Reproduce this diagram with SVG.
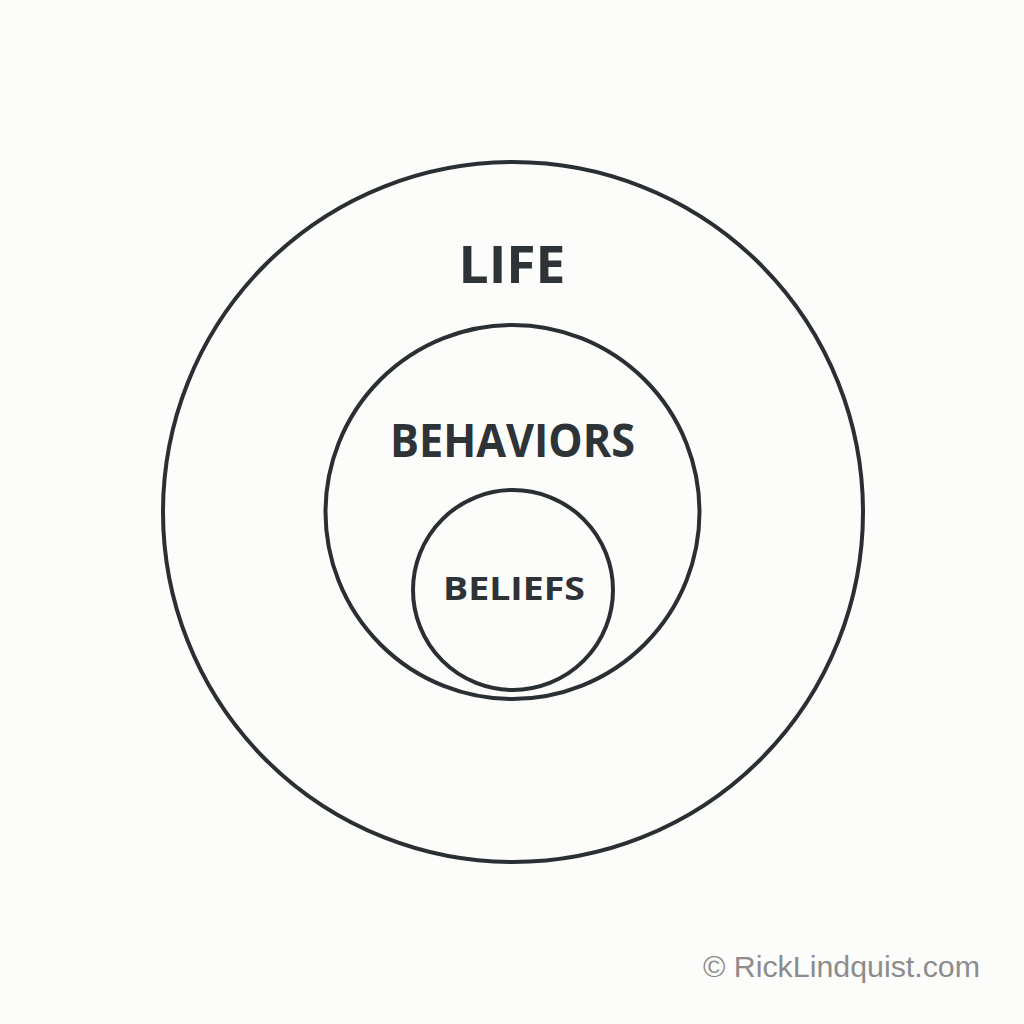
<svg xmlns="http://www.w3.org/2000/svg" width="1024" height="1024" viewBox="0 0 1024 1024">
<style>
.ring{fill:none;stroke:#2a2f33;stroke-width:4}
.lbl{font-family:"Open Sans","DejaVu Sans",sans-serif;font-weight:700;fill:#2d3336;text-anchor:middle}
.wm{font-family:"Liberation Sans",Arial,sans-serif;fill:#8c8c8c}
</style>
<rect width="1024" height="1024" fill="#fcfcfa"/>
<g id="life">
<circle class="ring" cx="513" cy="512" r="350"/>
<text class="lbl" x="512" y="283" font-size="52" textLength="107" lengthAdjust="spacingAndGlyphs">LIFE</text>
</g>
<g id="behaviors">
<circle class="ring" cx="512.5" cy="512" r="187"/>
<text class="lbl" x="512.5" y="457" font-size="47" textLength="245" lengthAdjust="spacingAndGlyphs">BEHAVIORS</text>
</g>
<g id="beliefs">
<circle class="ring" cx="513" cy="590" r="100" fill="#efefef"/>
<text class="lbl" x="514" y="600" font-size="33" textLength="142" lengthAdjust="spacingAndGlyphs">BELIEFS</text>
</g>
<g id="connectors"></g>
<text class="wm" x="703" y="977" font-size="30" textLength="277" lengthAdjust="spacingAndGlyphs">© RickLindquist.com</text>
</svg>
